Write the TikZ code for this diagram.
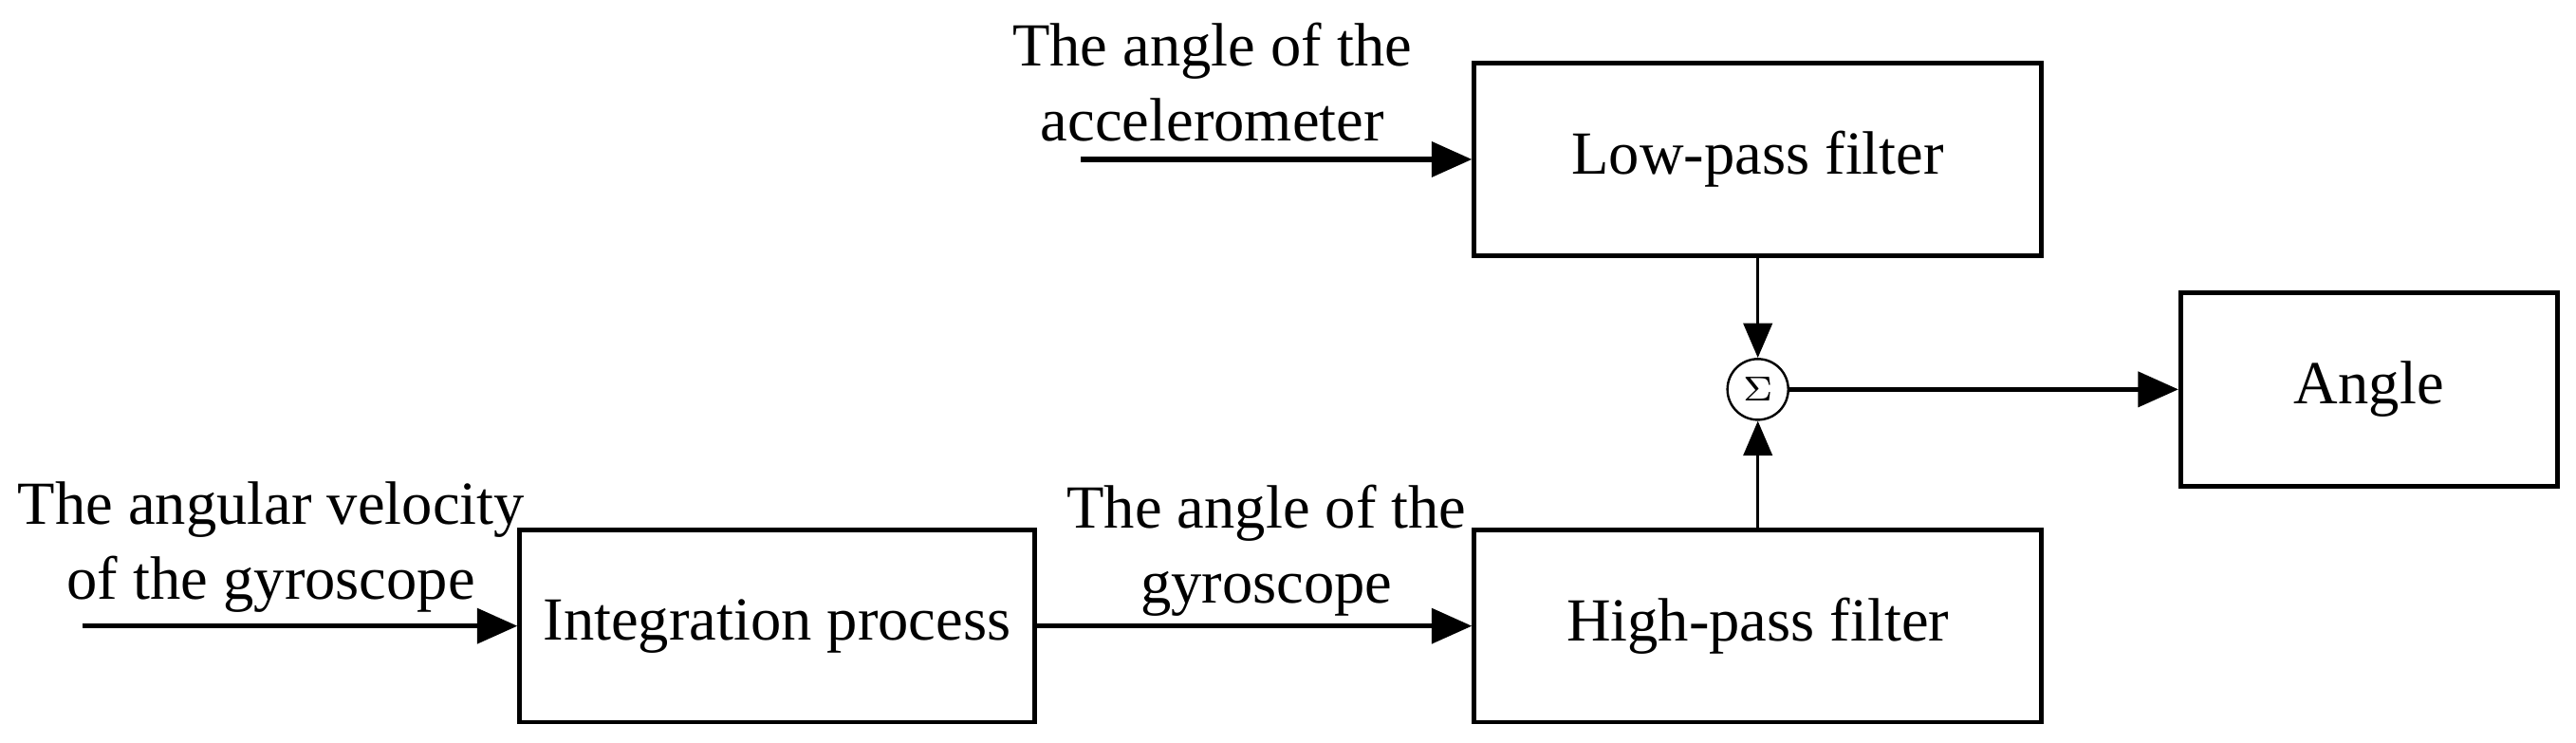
\documentclass[tikz,border=0pt]{standalone}
\usepackage{fontspec}
\setmainfont{Liberation Serif}
\usetikzlibrary{arrows.meta}
\begin{document}
\begin{tikzpicture}[x=0.01cm,y=-0.01cm,
  blk/.style={draw,line width=0.8pt,inner sep=0pt},
  lbl/.style={align=center,font=\fontsize{10.6}{13}\selectfont,inner sep=0pt},
  arr/.style={-{Triangle[length=7pt,width=6pt]},line width=0.9pt},
  varr/.style={-{Triangle[length=6pt,width=5pt]},line width=0.5pt}]
\useasboundingbox (0,0) rectangle (1568,452);
\node[blk,minimum width=345\pgflinewidth,minimum width=3.45cm,minimum height=1.17cm,font=\fontsize{10.6}{13}\selectfont] (lp) at (1070,97) {Low-pass filter};
\node[blk,minimum width=3.45cm,minimum height=1.17cm,font=\fontsize{10.6}{13}\selectfont] (hp) at (1070,381) {High-pass filter};
\node[blk,minimum width=3.13cm,minimum height=1.17cm,font=\fontsize{10.6}{13}\selectfont] (ip) at (473,381) {Integration process};
\node[blk,minimum width=2.29cm,minimum height=1.18cm,font=\fontsize{10.6}{13}\selectfont] (an) at (1442,237) {Angle};
\node[draw,circle,line width=0.4pt,minimum size=0.37cm,inner sep=0pt,font=\fontsize{6}{7}\selectfont] (s) at (1070,237) {$\Sigma$};
\coordinate (a0) at (658,97);
\coordinate (g0) at (50,381);
\draw[arr] (a0) -- (lp.west);
\draw[arr] (g0) -- (ip.west);
\draw[arr] (ip.east) -- (hp.west);
\draw[arr] (s.east) -- (an.west);
\draw[varr] (lp.south) -- (s.north);
\draw[varr] (hp.north) -- (s.south);
\node[lbl] (la) at (738,50) {The angle of the\\accelerometer};
\node[lbl] (lg) at (165,333) {The angular velocity\\of the gyroscope};
\node[lbl] (lt) at (771,335) {The angle of the\\gyroscope};
\end{tikzpicture}
\end{document}
